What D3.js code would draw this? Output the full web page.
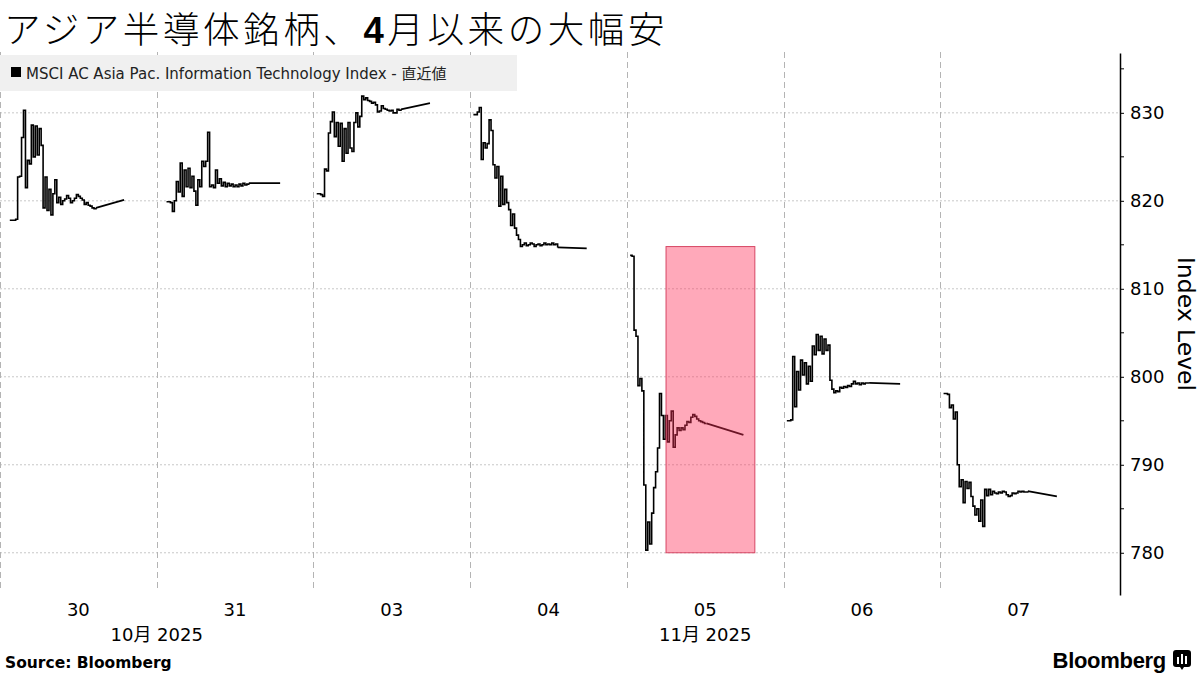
<!DOCTYPE html>
<html><head><meta charset="utf-8">
<script src="https://cdn.jsdelivr.net/npm/d3@7"></script>
<style>html,body{margin:0;padding:0;background:#fff}</style>
</head><body>
<svg id="c" width="1200" height="675"></svg>
<script>
// ---------------- DATA ----------------
const title = ["アジア半導体銘柄、", "4", "月以来の大幅安"];
const legendText = "MSCI AC Asia Pac. Information Technology Index - 直近値";
const yAxisTitle = "Index Level";
const sourceText = "Source: Bloomberg";
const days = ["30", "31", "03", "04", "05", "06", "07"];
const monthLabels = [
  { text: "10月 2025", days: ["30", "31"] },
  { text: "11月 2025", days: ["03", "04", "05", "06", "07"] }
];
const yMajorTicks = [780, 790, 800, 810, 820, 830];
const yMinorTicks = [785, 795, 805, 815, 825, 835];
const yDomain = [775.2, 836.8];

// session timing (hours within each day) and step of the intraday samples
const startHours = [1.5, 1.5, 0.5, 0.5, 0.5, 0.5, 0.5];
const stepHours = 0.3;
const closeHours = [19.0, 18.9, 17.85, 17.85, 17.85, 17.85, 17.85];
const closeValues = [820.1, 822.0, 831.1, 814.6, 793.4, 799.2, 786.4];

const day30 = [817.8, 817.8, 817.8, 817.9, 822.7, 822.8, 827.2, 830.3, 821.5, 824.6,
  824.2, 828.6, 825.0, 828.5, 825.2, 828.2, 826.3, 819.2, 822.7, 818.9,
  821.3, 818.4, 820.8, 822.4, 819.8, 820.4, 819.6, 820.0, 820.2, 820.6,
  820.3, 819.8, 820.0, 820.3, 820.7, 820.5, 820.3, 820.1, 819.6, 819.8,
  819.5, 819.4, 819.2, 819.1, 819.2];
const day31 = [819.9, 819.9, 819.8, 818.8, 820.0, 822.2, 821.0, 824.3, 820.5, 823.5,
  821.6, 823.7, 821.5, 822.8, 821.1, 819.5, 822.4, 821.6, 824.5, 823.9,
  824.5, 827.8, 821.6, 821.8, 821.5, 823.5, 822.0, 822.5, 821.7, 822.1,
  821.6, 822.0, 821.7, 821.9, 821.6, 821.8, 821.6, 821.9, 821.7, 822.0,
  821.8, 821.9, 822.0];
const day03 = [820.8, 820.8, 820.7, 820.5, 823.6, 823.4, 827.7, 829.0, 830.1, 827.3,
  828.9, 826.2, 828.8, 824.5, 828.2, 825.4, 828.9, 826.0, 825.6, 828.9,
  830.0, 828.4, 829.6, 831.9, 831.5, 831.7, 831.4, 831.3, 831.1, 831.2,
  830.9, 830.1, 830.2, 830.8, 830.5, 830.4, 830.3, 830.2, 830.3, 830.0,
  830.0, 830.4, 830.3, 830.4];
const day04 = [829.8, 829.8, 830.1, 830.6, 824.7, 826.6, 826.0, 826.5, 829.2, 828.0,
  824.1, 822.6, 823.9, 819.4, 822.8, 819.6, 821.3, 819.8, 819.0, 817.2,
  818.5, 816.9, 816.1, 815.6, 814.8, 815.0, 815.2, 814.9, 815.0, 815.2,
  815.1, 814.8, 815.0, 815.1, 814.9, 815.0, 815.2, 815.0, 815.1, 815.0,
  815.2, 815.0, 815.1, 814.7];
const day05 = [813.8, 813.7, 805.3, 804.6, 799.0, 799.8, 798.4, 787.7, 780.3, 783.5,
  781.0, 784.5, 787.4, 789.2, 791.9, 798.1, 795.6, 792.9, 795.6, 792.6,
  795.0, 796.1, 792.0, 793.4, 794.2, 793.9, 794.2, 794.0, 794.5, 794.9,
  794.8, 795.4, 795.7, 795.5, 795.2, 795.0, 794.9, 794.8, 794.7, 794.7];
const day06 = [795.0, 795.0, 795.1, 802.3, 796.6, 800.6, 798.5, 801.9, 800.2, 801.6,
  799.2, 801.2, 799.5, 803.5, 802.5, 804.8, 803.0, 804.6, 802.6, 804.3,
  803.0, 803.6, 799.6, 798.6, 798.2, 798.4, 798.3, 798.8, 798.7, 798.9,
  798.8, 799.0, 798.9, 799.2, 799.5, 799.2, 799.3, 799.1, 799.3, 799.2,
  799.3, 799.3, 799.3];
const day07 = [798.1, 798.1, 798.0, 796.5, 796.8, 795.2, 796.0, 790.0, 787.5, 788.3,
  785.7, 788.1, 787.3, 788.0, 786.4, 785.3, 784.3, 785.0, 783.6, 786.0,
  783.0, 787.2, 786.5, 787.2, 786.6, 787.0, 786.8, 786.7, 786.9, 786.8,
  787.0, 786.9, 786.6, 786.4, 786.5, 786.8, 786.7, 786.8, 787.0, 786.9,
  787.0, 786.9, 786.9, 787.0];
const dayValues = [day30, day31, day03, day04, day05, day06, day07];

// highlighted window
const highlightDay = "05";
const highlightHours = [6.0, 19.6];
const highlightRange = [780.0, 814.8];

// ---------------- CHART ----------------
const svg = d3.select("#c");
const plotLeft = 0, plotRight = 1097, axisX = 1120, plotTop = 53, plotBottom = 595;
const font = "'DejaVu Sans', 'Noto Sans CJK JP', sans-serif";

const xBand = d3.scaleBand().domain(days).range([plotLeft, plotRight]).padding(0);
const xHour = d3.scaleLinear().domain([0, 24]).range([0, xBand.bandwidth()]);
const X = (day, h) => xBand(day) + xHour(h);
const y = d3.scaleLinear().domain(yDomain).range([plotBottom, plotTop]);

// horizontal grid
svg.append("g").selectAll("line").data(yMajorTicks).join("line")
  .attr("x1", 0).attr("x2", axisX)
  .attr("y1", d => y(d)).attr("y2", d => y(d))
  .attr("stroke", "#c8c8c8").attr("stroke-width", 1).attr("stroke-dasharray", "2,2");

// vertical day separators
svg.append("g").selectAll("line").data(days).join("line")
  .attr("x1", d => Math.round(xBand(d)) + 0.5).attr("x2", d => Math.round(xBand(d)) + 0.5)
  .attr("y1", 52).attr("y2", 592)
  .attr("stroke", "#b4b4b4").attr("stroke-width", 1).attr("stroke-dasharray", "6,4");

// legend
const lg = svg.append("g");
lg.append("rect").attr("x", 0).attr("y", 55).attr("width", 517).attr("height", 36).attr("fill", "#f0f0f0");
lg.append("rect").attr("x", 11).attr("y", 67).attr("width", 10).attr("height", 10).attr("fill", "#000");
lg.append("text").attr("x", 26).attr("y", 78.5).attr("font-family", font).attr("font-size", 15)
  .attr("fill", "#222").text(legendText);

// series lines
const stepLine = d3.line().x(d => d.x).y(d => y(d.v)).curve(d3.curveStepAfter);
const straight = d3.line().x(d => d.x).y(d => y(d.v));
days.forEach((day, k) => {
  const pts = dayValues[k].map((v, i) => ({ x: X(day, startHours[k] + i * stepHours), v }));
  svg.append("path").attr("d", stepLine(pts)).attr("fill", "none")
    .attr("stroke", "#000").attr("stroke-width", 1.6).attr("stroke-linejoin", "miter");
  const last = pts[pts.length - 1];
  svg.append("path").attr("d", straight([last, { x: X(day, closeHours[k]), v: closeValues[k] }]))
    .attr("fill", "none").attr("stroke", "#000").attr("stroke-width", 1.8);
});

// highlight rectangle
svg.append("rect")
  .attr("x", X(highlightDay, highlightHours[0]))
  .attr("width", X(highlightDay, highlightHours[1]) - X(highlightDay, highlightHours[0]))
  .attr("y", y(highlightRange[1]))
  .attr("height", y(highlightRange[0]) - y(highlightRange[1]))
  .attr("fill", "rgb(255,50,90)").attr("fill-opacity", 0.42)
  .attr("stroke", "rgb(215,70,100)").attr("stroke-width", 1);

// y axis (right)
const yAxis = d3.axisRight(y).tickValues(yMajorTicks).tickSize(4).tickSizeOuter(0).tickPadding(6);
const ga = svg.append("g").attr("transform", `translate(${axisX},0)`).call(yAxis);
ga.select(".domain").attr("stroke", "#000").attr("stroke-width", 1.5);
ga.selectAll(".tick line").attr("stroke", "#000");
ga.selectAll(".tick text").attr("font-family", font).attr("font-size", 18).attr("fill", "#000");
ga.selectAll(".minor").data(yMinorTicks).join("line").attr("class", "minor")
  .attr("x1", 0).attr("x2", 4).attr("y1", d => y(d)).attr("y2", d => y(d)).attr("stroke", "#000");

svg.append("text")
  .attr("transform", `translate(1178, 324) rotate(90)`)
  .attr("text-anchor", "middle").attr("font-family", font).attr("font-size", 23.5).attr("fill", "#000")
  .text(yAxisTitle);

// x axis labels
svg.append("g").selectAll("text").data(days).join("text")
  .attr("x", d => xBand(d) + xBand.bandwidth() / 2).attr("y", 616)
  .attr("text-anchor", "middle").attr("font-family", font).attr("font-size", 18).attr("fill", "#000")
  .text(d => d);
svg.append("g").selectAll("text").data(monthLabels).join("text")
  .attr("x", d => (xBand(d.days[0]) + xBand(d.days[d.days.length - 1]) + xBand.bandwidth()) / 2)
  .attr("y", 641).attr("text-anchor", "middle").attr("font-family", font).attr("font-size", 18)
  .attr("fill", "#000").text(d => d.text);

// title
const t = svg.append("text").attr("x", 4).attr("y", 43).attr("font-size", 36.5)
  .attr("letter-spacing", 3.6)
  .attr("font-family", "'Noto Sans CJK JP', sans-serif").attr("fill", "#000");
t.append("tspan").attr("font-weight", 300).text(title[0]);
t.append("tspan").attr("font-weight", 700).attr("font-family", "'Liberation Sans', sans-serif").text(title[1]);
t.append("tspan").attr("font-weight", 300).text(title[2]);

// source
svg.append("text").attr("x", 5).attr("y", 668).attr("font-family", font).attr("font-weight", 700)
  .attr("font-size", 15.5).attr("fill", "#000").text(sourceText);

// Bloomberg logo
svg.append("text").attr("x", 1166).attr("y", 668).attr("text-anchor", "end")
  .attr("font-family", "'Liberation Sans', sans-serif").attr("font-weight", 700).attr("font-size", 22)
  .attr("letter-spacing", -0.3).attr("fill", "#000").text("Bloomberg");
const ic = svg.append("g").attr("transform", "translate(1173,650)");
ic.append("path").attr("d", "M3,0 H15 Q18,0 18,3 V14 Q18,17 15,17 H11 L9,20 L7,17 H3 Q0,17 0,14 V3 Q0,0 3,0 Z").attr("fill", "#000");
[[4, 7, 7], [8, 4, 10], [12, 6, 8]].forEach(b => ic.append("rect").attr("x", b[0]).attr("y", b[1]).attr("width", 2).attr("height", b[2]).attr("fill", "#fff"));
</script>
</body></html>
